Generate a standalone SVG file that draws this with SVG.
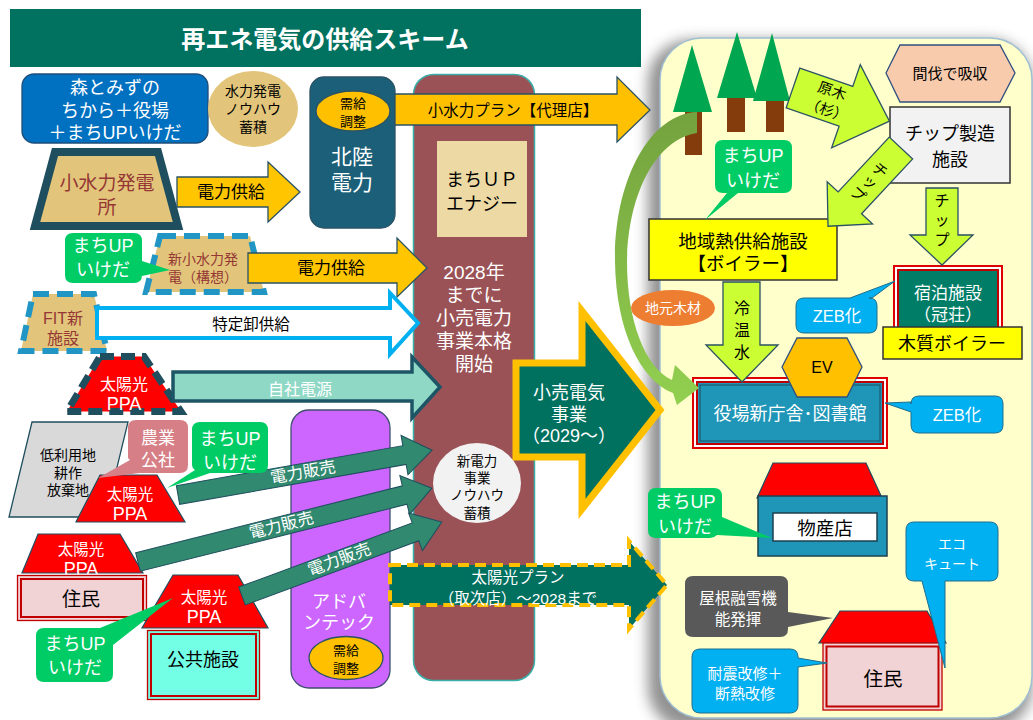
<svg xmlns="http://www.w3.org/2000/svg" width="1033" height="720" viewBox="0 0 1033 720">
<defs>
<style>
text{font-family:'Liberation Sans','Noto Sans CJK JP',sans-serif;text-anchor:middle;dominant-baseline:central}
.w{fill:#fff}
.k{fill:#000}
.r{fill:#953735}
.edge{stroke:#2A5264;stroke-width:1.3}
.lime{fill:#CCFF33;stroke:#2A5264;stroke-width:1.3}
.sell{fill:#31896F;stroke:#1F4E5E;stroke-width:1}
.ppa{fill:#FF0000;stroke:#1F4E5E;stroke-width:1.2}
.gc{fill:#00CC66}
.bc{fill:#00B0F0;stroke:#1F6E8E;stroke-width:1}
.roof{fill:#FF0000;stroke:#1F4E5E;stroke-width:1.2}
.big{font-size:18px}
</style>
<filter id="soft" x="-20%" y="-20%" width="140%" height="140%"><feGaussianBlur stdDeviation="7"/></filter>
<linearGradient id="band" x1="0" y1="0" x2="0" y2="1"><stop offset="0" stop-color="#74A23E"/><stop offset="1" stop-color="#92D050"/></linearGradient>
</defs>
<rect width="1033" height="720" fill="#fff"/>

<!-- heading bar -->
<g id="title">
<rect x="10" y="9" width="631" height="58" fill="#00725F"/>
<text x="325" y="39" class="w" font-size="24" font-weight="bold">再エネ電気の供給スキーム</text>
</g>

<!-- town area panel -->
<g id="area">
<rect x="648" y="40" width="384" height="690" rx="42" fill="#4A4A4A" opacity="0.6" filter="url(#soft)"/>
<rect x="660" y="38" width="372" height="680" rx="42" fill="#FFFFCC" stroke="#9FBFD3" stroke-width="1.5"/>
</g>

<!-- base nodes -->
<g id="hokuriku">
<rect x="310" y="77" width="85" height="151" rx="14" fill="#1B6078" class="edge"/>
<ellipse cx="353" cy="111" rx="37" ry="20" fill="#FFC000" class="edge"/>
<text class="k" font-size="13"><tspan x="353" y="103">需給</tspan><tspan x="353" y="121">調整</tspan></text>
<text class="w" font-size="21"><tspan x="352" y="156">北陸</tspan><tspan x="352" y="182">電力</tspan></text>
</g>

<g id="machiup-energy">
<rect x="413.5" y="74.5" width="121" height="606" rx="20" fill="#9A5256" stroke="#3AAFA9" stroke-width="1.5"/>
<rect x="437" y="141" width="90" height="96" fill="#EDD9A4"/>
<text class="k" font-size="18"><tspan x="482" y="180">まちＵＰ</tspan><tspan x="482" y="204">エナジー</tspan></text>
<text class="w" font-size="19"><tspan x="474" y="272">2028年</tspan><tspan x="474" y="295">までに</tspan><tspan x="474" y="318">小売電力</tspan><tspan x="474" y="341">事業本格</tspan><tspan x="474" y="364">開始</tspan></text>
</g>

<g id="advantec">
<rect x="291" y="410" width="99" height="278" rx="18" fill="#CC66FF" stroke="#404F6F" stroke-width="1.3"/>
<text class="w" font-size="18"><tspan x="339" y="602">アドバ</tspan><tspan x="339" y="623">ンテック</tspan></text>
<ellipse cx="346" cy="658" rx="37" ry="21.5" fill="#FFC000" class="edge"/>
<text class="k" font-size="13"><tspan x="346" y="650">需給</tspan><tspan x="346" y="668">調整</tspan></text>
</g>

<g id="mori">
<rect x="22" y="74" width="186" height="69" rx="12" fill="#0070C0" stroke="#1F4E79" stroke-width="1.3"/>
<text class="w" font-size="18"><tspan x="115" y="88">森とみずの</tspan><tspan x="115" y="111">ちから＋役場</tspan><tspan x="115" y="133">＋まちUPいけだ</tspan></text>
</g>

<g id="hydro-knowhow">
<ellipse cx="253" cy="109" rx="45" ry="38" fill="#E2C57A"/>
<text class="k" font-size="14"><tspan x="253" y="91">水力発電</tspan><tspan x="253" y="109">ノウハウ</tspan><tspan x="253" y="127">蓄積</tspan></text>
</g>

<g id="small-hydro">
<path d="M55,152 H158 L178,226 H35 Z" fill="#E2C57A" stroke="#1F4E5E" stroke-width="8" stroke-linejoin="miter"/>
<text class="r" font-size="19"><tspan x="107" y="183">小水力発電</tspan><tspan x="107" y="207">所</tspan></text>
</g>

<g id="new-hydro">
<path d="M160,236 H250 L264,292 H146 Z" fill="#E2C57A" stroke="#2196C4" stroke-width="6" stroke-dasharray="16 8"/>
<text class="r" font-size="14"><tspan x="203" y="259">新小水力発</tspan><tspan x="203" y="277">電（構想）</tspan></text>
</g>

<g id="fit">
<path d="M33,294 H94 L107,351 H21 Z" fill="#E2C57A" stroke="#2196C4" stroke-width="6" stroke-dasharray="16 8"/>
<text class="r" font-size="16"><tspan x="63" y="318">FIT新</tspan><tspan x="63" y="338">施設</tspan></text>
</g>

<g id="ppa-own">
<path d="M100,356.5 H144 L181,411.5 H67 Z" fill="#FF0000" stroke="#1F4E5E" stroke-width="7" stroke-dasharray="14 7"/>
<text class="w" font-size="16"><tspan x="124" y="384">太陽光</tspan><tspan x="124" y="404" class="big">PPA</tspan></text>
</g>

<g id="idle-land">
<path d="M32,422 H128 L105,517 H9 Z" fill="#D9D9D9" stroke="#1F4E5E" stroke-width="1.3"/>
<text class="k" font-size="14"><tspan x="68" y="455">低利用地</tspan><tspan x="68" y="473">耕作</tspan><tspan x="68" y="490">放棄地</tspan></text>
</g>

<g id="ppa-farm">
<path d="M100,475 H157 L185,522 H76 Z" class="ppa"/>
<text class="w" font-size="15.5"><tspan x="130" y="494">太陽光</tspan><tspan x="130" y="514" class="big">PPA</tspan></text>
</g>

<g id="resident-left">
<path d="M38,534 H120 L143,573 H22 Z" class="ppa"/>
<text class="w" font-size="15.5"><tspan x="81" y="549">太陽光</tspan><tspan x="81" y="569" class="big">PPA</tspan></text>
<rect x="17.5" y="575.5" width="129" height="45" fill="#F2D3D5" stroke="#C00000" stroke-width="1.3"/>
<rect x="21" y="579" width="122" height="38" fill="none" stroke="#C00000" stroke-width="2"/>
<text x="81" y="599" class="k" font-size="19">住民</text>
</g>

<g id="public">
<path d="M173,575 H238 L268,628 H142 Z" class="ppa"/>
<text class="w" font-size="15.5"><tspan x="204" y="597">太陽光</tspan><tspan x="204" y="617" class="big">PPA</tspan></text>
<rect x="147.5" y="630.5" width="112" height="69" fill="#73FFE6" stroke="#C00000" stroke-width="1.3"/>
<rect x="151" y="634" width="105" height="62" fill="none" stroke="#C00000" stroke-width="2"/>
<text x="203" y="660" class="k" font-size="18">公共施設</text>
</g>

<!-- right-side base nodes -->
<g id="trees">
<rect x="685" y="107" width="17" height="48" fill="#843C0C"/>
<rect x="727" y="95" width="18" height="37" fill="#843C0C"/>
<rect x="766" y="100" width="18" height="32" fill="#843C0C"/>
<polygon points="692,45 712,112 673,112" fill="#00A650"/>
<polygon points="737,32 757,98 717,98" fill="#00A650"/>
<polygon points="772,33 790,101 753,101" fill="#00A650"/>
</g>

<g id="thinning">
<polygon points="886,73 900,45 1000,45 1015,73 1000,102 900,102" fill="#F8CBAD" stroke="#2F4F7F" stroke-width="1.3"/>
<text x="950" y="73" class="k" font-size="15">間伐で吸収</text>
</g>

<g id="chip-plant">
<rect x="890" y="107" width="120" height="76" fill="#F2F2F2" stroke="#333" stroke-width="1.5"/>
<text class="k" font-size="18"><tspan x="950" y="134">チップ製造</tspan><tspan x="950" y="160">施設</tspan></text>
</g>

<g id="heat-supply">
<rect x="649" y="219" width="188" height="61" fill="#FFFF00" stroke="#333" stroke-width="1.5"/>
<text class="k" font-size="18.5"><tspan x="743" y="241">地域熱供給施設</tspan><tspan x="743" y="263">【ボイラー】</tspan></text>
</g>

<g id="lodging">
<rect x="894" y="266" width="108" height="64" fill="#fff" stroke="#E00000" stroke-width="2"/>
<rect x="898" y="270" width="100" height="58" fill="#007D67" stroke="#C00000" stroke-width="2"/>
<text class="w" font-size="17"><tspan x="948" y="293">宿泊施設</tspan><tspan x="948" y="315">（冠荘）</tspan></text>
</g>

<g id="town-hall">
<rect x="693" y="378" width="194" height="70" fill="#fff" stroke="#E00000" stroke-width="2"/>
<rect x="697" y="382" width="186" height="62" fill="#1F96B7" stroke="#C00000" stroke-width="2"/>
<rect x="700" y="385" width="180" height="56" fill="none" stroke="#1F4E5E" stroke-width="1"/>
<text x="790" y="414" class="w" font-size="18">役場新庁舎･図書館</text>
</g>

<g id="shop">
<polygon points="773,463 866,463 882,498 757,498" class="roof"/>
<rect x="758" y="496" width="129" height="60" fill="#1F96B7" stroke="#1F3F4F" stroke-width="1.5"/>
<rect x="773" y="513" width="104" height="28" fill="#fff" stroke="#1F3F4F" stroke-width="1.5"/>
<text x="825" y="528" class="k" font-size="18.5">物産店</text>
</g>

<g id="resident-right">
<polygon points="840,611 927,611 946,643 819,643" class="roof"/>
<rect x="823" y="643" width="119" height="67" fill="#F2D3D5" stroke="#C00000" stroke-width="1.3"/>
<rect x="826.5" y="646.5" width="112" height="60" fill="none" stroke="#C00000" stroke-width="2"/>
<text x="883" y="679" class="k" font-size="19.5">住民</text>
</g>

<!-- connectors: block arrows between nodes -->
<g id="connectors">
<path d="M177,177 H268 V162 L300,192 L268,222 V207 H177 Z" fill="#FFC600" class="edge"/>
<text x="231" y="192" class="k" font-size="17">電力供給</text>

<path d="M395,94 H617 V77 L650,110 L617,142 V125 H395 Z" fill="#FFC000" class="edge"/>
<text x="513" y="110" class="k" font-size="15.5">小水力プラン【代理店】</text>

<path d="M248,253 H397 V238 L427,268 L397,297 V283 H248 Z" fill="#FFC600" class="edge"/>
<text x="331" y="268" class="k" font-size="17">電力供給</text>

<path d="M97,308 H390 V293 L418,323 L390,354 V338 H97 Z" fill="#fff" stroke="#00B0F0" stroke-width="4"/>
<text x="251" y="324" class="k" font-size="15.5">特定卸供給</text>

<path d="M173,372 H412 V357 L440,387 L412,418 V401 H173 Z" fill="#8FD8C6" stroke="#1D5566" stroke-width="3.5"/>
<text x="300" y="389" class="w" font-size="16">自社電源</text>

<g transform="translate(178,495) rotate(-10)">
<path d="M0,-9.5 H230 V-20 L258,0 L230,20 V9.5 H0 Z" class="sell"/>
<text x="127" y="-1" class="w" font-size="16.5">電力販売</text>
</g>
<g transform="translate(138,562) rotate(-14.1)">
<path d="M0,-9.5 H275 V-20 L303,0 L275,20 V9.5 H0 Z" class="sell"/>
<text x="148" y="-1" class="w" font-size="16.5">電力販売</text>
</g>
<g transform="translate(242,596) rotate(-20.3)">
<path d="M0,-9.5 H185 V-20 L213,0 L185,20 V9.5 H0 Z" class="sell"/>
<text x="104" y="-1" class="w" font-size="16.5">電力販売</text>
</g>

<path d="M516,363 H582 V311 L660,410 L582,509 V457 H516 Z" fill="#00705F" stroke="#FFC000" stroke-width="7" stroke-linejoin="miter"/>
<text class="w" font-size="18"><tspan x="569" y="393">小売電気</tspan><tspan x="569" y="415">事業</tspan><tspan x="569" y="436">（2029～）</tspan></text>

<path d="M390,565 H629 V541 L667,585 L629,629 V605 H390 Z" fill="#00705F" stroke="#FFC000" stroke-width="4" stroke-dasharray="11 6"/>
<text class="w" font-size="15.5"><tspan x="518" y="577">太陽光プラン</tspan><tspan x="518" y="598">（取次店）～2028まで</tspan></text>

<path d="M697,112 C650,114 614,180 615,262 C616,330 640,380 673,393 L677,405 L699,388 L675,365 L672,380 C645,368 627,320 627,262 C628,195 655,140 697,133 Z" fill="url(#band)"/>

<g transform="translate(793,88) rotate(19)">
<path d="M0,-21 H56 V-44 L102,0 L56,44 V21 H0 Z" class="lime"/>
<text class="k" font-size="14.5"><tspan x="38" y="-10">原木</tspan><tspan x="39" y="10">（杉）</tspan></text>
</g>

<g transform="translate(901,148) rotate(133)">
<path d="M0,-16 H75 V-31 L107,0 L75,31 V16 H0 Z" class="lime"/>
</g>
<text x="880" y="170" class="k" font-size="15" transform="rotate(43 880 170)">チ</text>
<text x="870" y="182" class="k" font-size="15" transform="rotate(43 870 182)">ッ</text>
<text x="858" y="194" class="k" font-size="15" transform="rotate(43 858 194)">プ</text>

<path d="M926,188 H958 V235 H973 L942,265 L910,235 H926 Z" class="lime"/>
<text class="k" font-size="15"><tspan x="942" y="200">チ</tspan><tspan x="942" y="219">ッ</tspan><tspan x="942" y="239">プ</tspan></text>

<path d="M723,282 H760 V345 H778 L742,382 L706,345 H723 Z" class="lime"/>
<text class="k" font-size="16"><tspan x="742" y="308">冷</tspan><tspan x="742" y="330">温</tspan><tspan x="742" y="352">水</tspan></text>
</g>

<!-- overlay nodes and callouts -->
<g id="new-power-knowhow">
<ellipse cx="477" cy="483" rx="44" ry="40" fill="#F2F2F2"/>
<text class="k" font-size="13.5"><tspan x="477" y="461">新電力</tspan><tspan x="477" y="478">事業</tspan><tspan x="477" y="495">ノウハウ</tspan><tspan x="477" y="513">蓄積</tspan></text>
</g>

<g id="callout-ikeda-1">
<path d="M73,233 H134 Q142,233 142,241 V261 L170,270 L142,276 V275 Q142,283 134,283 H73 Q65,283 65,275 V241 Q65,233 73,233 Z" class="gc"/>
<text class="w" font-size="18"><tspan x="103" y="246">まちUP</tspan><tspan x="103" y="270">いけだ</tspan></text>
</g>

<g id="callout-farm">
<path d="M136,420 H180 Q188,420 188,428 V465 Q188,473 180,473 H140 L98,478 L130,460 L128,458 V428 Q128,420 136,420 Z" fill="#D77F86"/>
<text class="w" font-size="17"><tspan x="158" y="438">農業</tspan><tspan x="158" y="460">公社</tspan></text>
</g>

<g id="callout-ikeda-2">
<path d="M200,422 H260 Q268,422 268,430 V465 Q268,473 260,473 H210 L167,488 L195,470 Q192,468 192,465 V430 Q192,422 200,422 Z" class="gc"/>
<text class="w" font-size="18"><tspan x="230" y="439">まちUP</tspan><tspan x="230" y="463">いけだ</tspan></text>
</g>

<g id="callout-ikeda-3">
<path d="M44,628 H100 L173,598 L113,645 V674 Q113,682 105,682 H44 Q36,682 36,674 V636 Q36,628 44,628 Z" class="gc"/>
<text class="w" font-size="18"><tspan x="75" y="644">まちUP</tspan><tspan x="75" y="668">いけだ</tspan></text>
</g>

<g id="callout-ikeda-4">
<path d="M723,140 H784 Q792,140 792,148 V185 Q792,193 784,193 H738 L705,220 L727,193 H723 Q715,193 715,185 V148 Q715,140 723,140 Z" class="gc"/>
<text class="w" font-size="18"><tspan x="753" y="156">まちUP</tspan><tspan x="753" y="181">いけだ</tspan></text>
</g>

<g id="local-wood">
<ellipse cx="673" cy="308" rx="42" ry="18" fill="#ED7D31"/>
<text x="673" y="308" class="w" font-size="14">地元木材</text>
</g>

<g id="zeb-lodging">
<path d="M804,298 H850 L895,281 L872,298 H869 Q877,298 877,306 V325 Q877,333 869,333 H804 Q796,333 796,325 V306 Q796,298 804,298 Z" class="bc"/>
<text x="837" y="316" class="w" font-size="16.5">ZEB化</text>
</g>

<g id="wood-boiler">
<rect x="883" y="327" width="139" height="32" fill="#FFFF00" stroke="#333" stroke-width="1.5"/>
<text x="952" y="344" class="k" font-size="18">木質ボイラー</text>
</g>

<g id="ev">
<polygon points="782,367 797,338 847,338 862,367 847,397 797,397" fill="#FFC000" stroke="#2F4F7F" stroke-width="1.3"/>
<text x="822" y="367" class="k" font-size="16">EV</text>
</g>

<g id="zeb-hall">
<path d="M919,396 H995 Q1003,396 1003,404 V425 Q1003,433 995,433 H919 Q911,433 911,425 V412 L885,403 L911,402 V404 Q911,396 919,396 Z" class="bc"/>
<text x="957" y="415" class="w" font-size="16.5">ZEB化</text>
</g>

<g id="callout-ikeda-5">
<path d="M656,488 H714 Q722,488 722,496 V517 L772,538 L717,535 Q714,538 710,538 H656 Q648,538 648,530 V496 Q648,488 656,488 Z" class="gc"/>
<text class="w" font-size="18"><tspan x="685" y="502">まちUP</tspan><tspan x="685" y="527">いけだ</tspan></text>
</g>

<g id="eco-cute">
<path d="M914,522 H990 Q998,522 998,530 V573 Q998,581 990,581 H945 L945,668 L922,581 H914 Q906,581 906,573 V530 Q906,522 914,522 Z" class="bc"/>
<text class="w" font-size="14"><tspan x="952" y="544">エコ</tspan><tspan x="952" y="564">キュート</tspan></text>
</g>

<g id="snow-melt">
<path d="M693,576 H780 Q788,576 788,584 V612 L833,618 L788,627 V629 Q788,637 780,637 H693 Q685,637 685,629 V584 Q685,576 693,576 Z" fill="#595959"/>
<text class="w" font-size="15.5"><tspan x="738" y="598">屋根融雪機</tspan><tspan x="738" y="619">能発揮</tspan></text>
</g>

<g id="retrofit">
<path d="M700,649 H790 Q798,649 798,657 V658 L827,663 L798,667 V705 Q798,713 790,713 H700 Q692,713 692,705 V657 Q692,649 700,649 Z" class="bc"/>
<text class="w" font-size="15"><tspan x="745" y="673">耐震改修＋</tspan><tspan x="745" y="693">断熱改修</tspan></text>
</g>
</svg>
